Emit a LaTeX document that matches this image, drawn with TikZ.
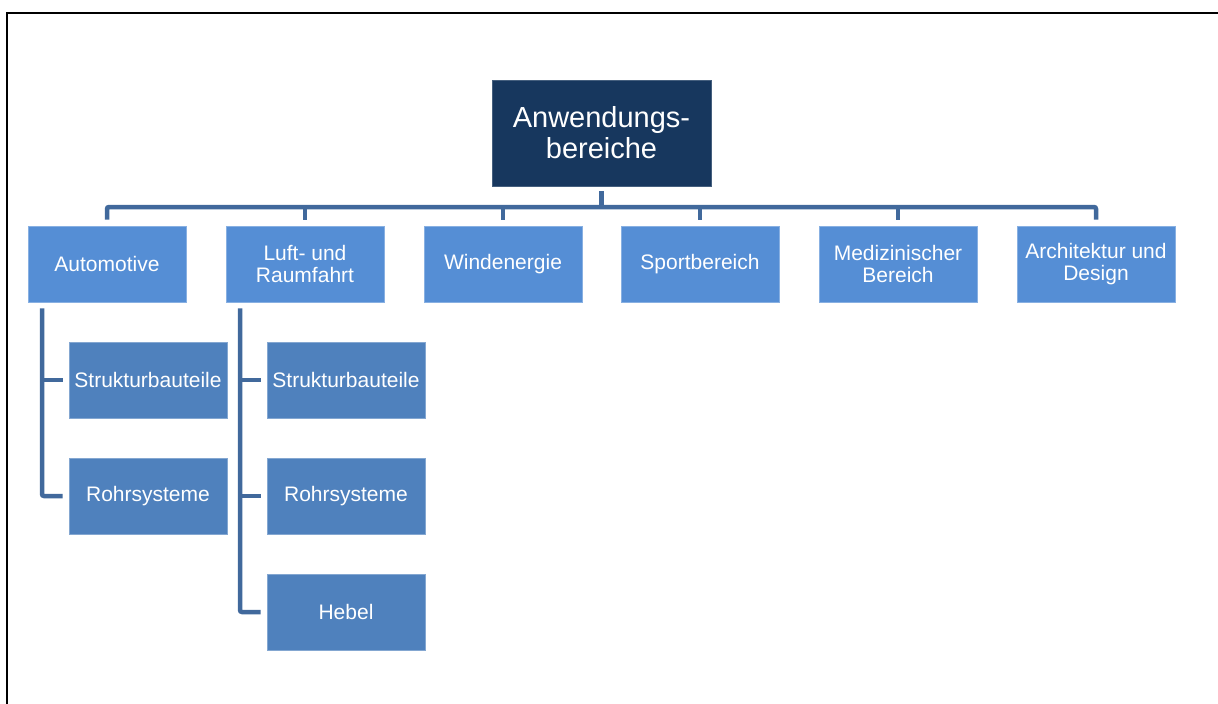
\documentclass[tikz,border=0pt]{standalone}
\usepackage{fontspec}
\setmainfont{Liberation Sans}
\begin{document}
\begin{tikzpicture}[x=1pt,y=-1pt,
  rootbox/.style={fill=rootblue, draw=rootblue!80!white, line width=0.6pt,
    minimum width=219pt, minimum height=106pt, inner sep=0pt, align=center,
    text=white, font=\fontsize{29}{31}\selectfont},
  childbox/.style={fill=childblue, draw=childblue!70!white, line width=0.6pt,
    minimum width=158pt, minimum height=76pt, inner sep=0pt, align=center,
    text=white, font=\fontsize{21}{22.5}\selectfont},
  leafbox/.style={childbox, fill=leafblue, draw=leafblue!70!white},
  conn/.style={draw=connblue, line width=4.5pt, rounded corners=2pt}]
\definecolor{rootblue}{HTML}{17375E}
\definecolor{childblue}{HTML}{558ED5}
\definecolor{leafblue}{HTML}{4F81BD}
\definecolor{connblue}{HTML}{41699C}
\useasboundingbox (0,0) rectangle (1218,704);
\fill[white] (0,0) rectangle (1218,704);
% frame
\draw[line width=2pt] (7.3,710) -- (7.3,12.7) -- (1225,12.7);

% top level
\node[rootbox] (root) at (601.5,133) {Anwendungs-\\bereiche};

% second level
\node[childbox] (auto) at (107,264) {Automotive};
\node[childbox] (luft) at (305,264) {Luft- und\\Raumfahrt};
\node[childbox] (wind) at (503,264) {Windenergie};
\node[childbox] (sport) at (700,264) {Sportbereich};
\node[childbox] (med) at (898,264) {Medizinischer\\Bereich};
\node[childbox] (arch) at (1096,264) {Architektur und\\Design};

% third level
\node[leafbox] (as) at (148,380) {Strukturbauteile};
\node[leafbox] (ar) at (148,496) {Rohrsysteme};
\node[leafbox] (ls) at (346,380) {Strukturbauteile};
\node[leafbox] (lr) at (346,496) {Rohrsysteme};
\node[leafbox] (lh) at (346,612) {Hebel};

% connector levels
\coordinate (bar) at (0,207);
\coordinate (autox) at (42,0);
\coordinate (luftx) at (240,0);

% root to second level
\draw[conn] ([yshift=6pt]auto.north) -- (auto.north |- bar) -- (arch.north |- bar) -- ([yshift=6pt]arch.north);
\draw[conn] ([yshift=-5pt]root.south) -- (root.south |- bar);
\draw[conn] ([yshift=6pt]luft.north) -- (luft.north |- bar);
\draw[conn] ([yshift=6pt]wind.north) -- (wind.north |- bar);
\draw[conn] ([yshift=6pt]sport.north) -- (sport.north |- bar);
\draw[conn] ([yshift=6pt]med.north) -- (med.north |- bar);

% Automotive branch
\draw[conn] ([yshift=-6pt]auto.south -| autox) |- ([xshift=-6pt]ar.west);
\draw[conn] (as.west -| autox) -- ([xshift=-6pt]as.west);

% Luft- und Raumfahrt branch
\draw[conn] ([yshift=-6pt]luft.south -| luftx) |- ([xshift=-6pt]lh.west);
\draw[conn] (ls.west -| luftx) -- ([xshift=-6pt]ls.west);
\draw[conn] (lr.west -| luftx) -- ([xshift=-6pt]lr.west);
\end{tikzpicture}
\end{document}
